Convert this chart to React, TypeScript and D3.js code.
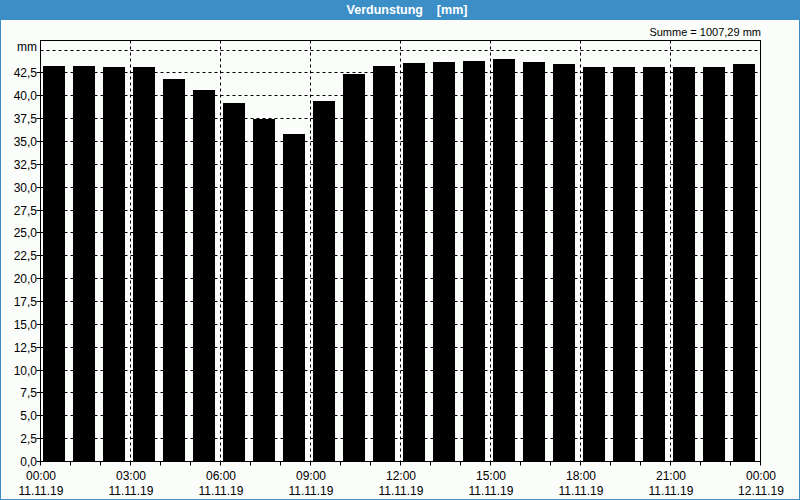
import React from "react";
import * as d3 from "d3";

const hours: number[] = Array.from({ length: 24 }, (_, i) => i);
const values: number[] = [
  43.25, 43.25, 43.05, 43.05, 41.75, 40.6, 39.2, 37.45, 35.8, 39.4, 42.35, 43.15,
  43.5, 43.6, 43.7, 44.0, 43.6, 43.4, 43.05, 43.05, 43.05, 43.05, 43.05, 43.4,
];
const yTicks: number[] = [0, 2.5, 5, 7.5, 10, 12.5, 15, 17.5, 20, 22.5, 25, 27.5, 30, 32.5, 35, 37.5, 40, 42.5];
const xTickHours: number[] = [0, 3, 6, 9, 12, 15, 18, 21, 24];
const xTimeLabels: string[] = ["00:00", "03:00", "06:00", "09:00", "12:00", "15:00", "18:00", "21:00", "00:00"];
const xDateLabels: string[] = ["11.11.19", "11.11.19", "11.11.19", "11.11.19", "11.11.19", "11.11.19", "11.11.19", "11.11.19", "12.11.19"];
const title = "Verdunstung    [mm]";
const sumLabel = "Summe = 1007,29 mm";
const unitLabel = "mm";

const W = 800;
const H = 500;
const L = 40.5;
const R = 760.5;
const T = 40.5;
const B = 461.5;
const font = "'Liberation Sans', Arial, sans-serif";

export default function App() {
  const x = d3.scaleLinear().domain([0, 24]).range([L, R]);
  const y = d3.scaleLinear().domain([0, 46.04]).range([B - 0.5, T - 0.5]);
  const fmt = (v: number) => v.toFixed(1).replace(".", ",");
  const gridY = [...yTicks.filter((v) => v > 0), 45];
  const innerV = xTickHours.filter((h) => h > 0 && h < 24);
  const px = (h: number) => Math.floor(x(h)) + 0.5;

  return (
    <svg width={W} height={H} style={{ position: "absolute", left: 0, top: 0, display: "block" }}>
      <rect x={0} y={0} width={W} height={H} fill="#fbfdfb" />
      <rect x={0.5} y={0.5} width={W - 1} height={H - 1} fill="none" stroke="#3c8fc6" strokeWidth={1} />
      <rect x={0} y={0} width={W} height={20} fill="#3c8fc6" />
      <text x={W / 2 + 7} y={14} textAnchor="middle" fill="#ffffff" fontFamily={font} fontSize={12.5} fontWeight="bold" style={{ whiteSpace: "pre" }}>
        {title}
      </text>
      <text x={761} y={36} textAnchor="end" fill="#000" fontFamily={font} fontSize={11} style={{ whiteSpace: "pre" }}>
        {sumLabel}
      </text>

      {/* bars */}
      {hours.map((h, i) => (
        <rect
          key={h}
          x={Math.round(x(h)) + 2}
          y={Math.round(y(values[i]))}
          width={22}
          height={Math.round(y(0)) - Math.round(y(values[i]))}
          fill="#000"
        />
      ))}

      {/* horizontal grid */}
      {gridY.map((v) => (
        <line key={"g" + v} x1={L} x2={R} y1={Math.round(y(v)) + 0.5} y2={Math.round(y(v)) + 0.5} stroke="#000" strokeDasharray="3,3" />
      ))}
      {/* vertical grid */}
      {innerV.map((h) => (
        <line key={"v" + h} x1={px(h)} x2={px(h)} y1={T} y2={B} stroke="#000" strokeDasharray="3,3" />
      ))}

      {/* frame */}
      <rect x={L} y={T} width={R - L} height={B - T} fill="none" stroke="#000" />

      {/* y ticks & labels */}
      {yTicks.map((v) => (
        <g key={"y" + v}>
          <line x1={L - 4} x2={L} y1={Math.round(y(v)) + 0.5} y2={Math.round(y(v)) + 0.5} stroke="#000" />
          <text x={37} y={Math.round(y(v)) + 5} textAnchor="end" fill="#000" fontFamily={font} fontSize={12}>
            {fmt(v)}
          </text>
        </g>
      ))}
      <text x={37} y={51} textAnchor="end" fill="#000" fontFamily={font} fontSize={12}>
        {unitLabel}
      </text>

      {/* x ticks */}
      {d3.range(0, 25).map((h) => (
        <line key={"xt" + h} x1={px(h)} x2={px(h)} y1={B} y2={B + 4} stroke="#000" />
      ))}
      {xTickHours.map((h, i) => (
        <g key={"xl" + h}>
          <text x={x(h) + 0.5} y={480} textAnchor="middle" fill="#000" fontFamily={font} fontSize={12}>
            {xTimeLabels[i]}
          </text>
          <text x={x(h) + 0.5} y={495} textAnchor="middle" fill="#000" fontFamily={font} fontSize={12}>
            {xDateLabels[i]}
          </text>
        </g>
      ))}
    </svg>
  );
}
